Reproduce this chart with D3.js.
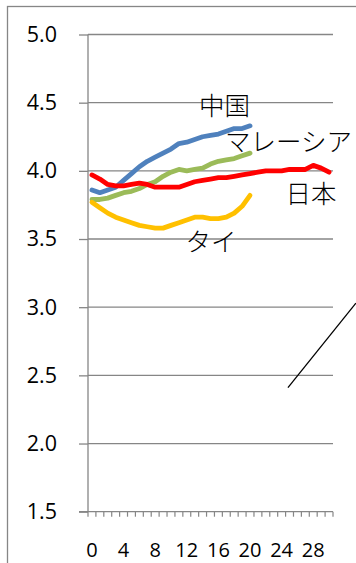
<!DOCTYPE html>
<html><head><meta charset="utf-8">
<script src="https://cdn.jsdelivr.net/npm/d3@7"></script>
<style>
html,body{margin:0;padding:0;background:#fff;}
svg{display:block;}
</style></head>
<body>
<svg id="c" width="356" height="563"></svg>
<script>
const categories = d3.range(0, 31);
const tickLabels = ["0","4","8","12","16","20","24","28"];
const yTicks = [1.5,2.0,2.5,3.0,3.5,4.0,4.5,5.0];
const seriesNames = ["中国","マレーシア","日本","タイ"];
const china    = [3.86,3.84,3.86,3.88,3.93,3.98,4.03,4.07,4.10,4.13,4.16,4.20,4.21,4.23,4.25,4.26,4.27,4.29,4.31,4.31,4.33];
const malaysia = [3.79,3.79,3.80,3.82,3.84,3.85,3.87,3.90,3.92,3.96,3.99,4.01,4.00,4.01,4.02,4.05,4.07,4.08,4.09,4.11,4.13];
const japan    = [3.97,3.94,3.90,3.89,3.89,3.90,3.91,3.90,3.88,3.88,3.88,3.88,3.90,3.92,3.93,3.94,3.95,3.95,3.96,3.97,3.98,3.99,4.00,4.00,4.00,4.01,4.01,4.01,4.04,4.02,3.99];
const thailand = [3.77,3.73,3.69,3.66,3.64,3.62,3.60,3.59,3.58,3.58,3.60,3.62,3.64,3.66,3.66,3.65,3.65,3.66,3.69,3.74,3.82];
const colors = ["#4F81BD","#9BBB59","#FF0000","#FFC000"];
// stray annotation line in data units [category boundary, value]
const strayLine = [[25.3,2.41],[33.9,3.03]];

(function(){
const svg = d3.select("#c");
const L = 88, R = 333, T = 34.5, B = 511.7;
const y = d3.scaleLinear().domain([1.5,5]).range([B, T]);
const x = d3.scaleBand().domain(categories).range([L, R]).paddingInner(0).paddingOuter(0);
const xb = d3.scaleLinear().domain([0, categories.length]).range([L, R]);
const xc = i => x(i) + x.bandwidth()/2;

// outer chart border
svg.append("rect").attr("x",7.5).attr("y",6.5).attr("width",400).attr("height",600)
  .attr("fill","none").attr("stroke","#868686").attr("stroke-width",1.3);

// gridlines
svg.append("g").selectAll("line").data(yTicks.filter(v=>v>1.5)).join("line")
  .attr("x1",L).attr("x2",R).attr("y1",d=>y(d)).attr("y2",d=>y(d))
  .attr("stroke","#868686").attr("stroke-width",1.3);

// y axis
const yAxis = svg.append("g").attr("transform",`translate(${L},0)`)
  .call(d3.axisLeft(y).tickValues(yTicks).tickFormat(d3.format(".1f")).tickSize(9).tickPadding(22));
yAxis.select(".domain").attr("stroke","#868686").attr("stroke-width",1.3).attr("d",`M0,${T}V${B}`);
yAxis.selectAll(".tick line").attr("stroke","#868686").attr("stroke-width",1.3);
yAxis.selectAll("text").attr("font-family","Open Sans, sans-serif").attr("font-size",21.5).attr("fill","#000");

// x axis minor ticks
const xAxisG = svg.append("g").attr("transform",`translate(0,${B})`);
xAxisG.append("line").attr("x1",L-9).attr("x2",R).attr("y1",0).attr("y2",0)
  .attr("stroke","#868686").attr("stroke-width",1.3);
xAxisG.selectAll("line.t").data(d3.range(categories.length+1)).join("line").attr("class","t")
  .attr("x1",d=>xb(d)).attr("x2",d=>xb(d)).attr("y1",0).attr("y2",5)
  .attr("stroke","#868686").attr("stroke-width",1.2);
xAxisG.selectAll("text").data(tickLabels).join("text")
  .attr("x",d=>xc(+d)).attr("y",45.3).attr("text-anchor","middle")
  .attr("font-family","Open Sans, sans-serif").attr("font-size",20).attr("fill","#000").text(d=>d);

// series lines
const line = d3.line().x((d,i)=>xc(i)).y(d=>y(d));
[china, malaysia, japan, thailand].forEach((s,k)=>{
  svg.append("path").datum(s).attr("d",line).attr("fill","none")
    .attr("stroke",colors[k]).attr("stroke-width",4.8).attr("stroke-linejoin","round").attr("stroke-linecap","round");
});

// stray line
svg.append("line").attr("x1",xb(strayLine[0][0])).attr("y1",y(strayLine[0][1]))
  .attr("x2",xb(strayLine[1][0])).attr("y2",y(strayLine[1][1]))
  .attr("stroke","#000").attr("stroke-width",1.3);

// series labels
const labelPos = [[224.5,115],[288.5,151],[311,203],[211,251]];
svg.append("g").selectAll("text").data(seriesNames).join("text")
  .attr("x",(d,i)=>labelPos[i][0]).attr("y",(d,i)=>labelPos[i][1]).attr("text-anchor","middle")
  .attr("font-family","Noto Sans CJK JP, sans-serif").attr("font-weight",300).attr("font-size",25.5).attr("fill","#000").text(d=>d);
})();
</script>
</body></html>
